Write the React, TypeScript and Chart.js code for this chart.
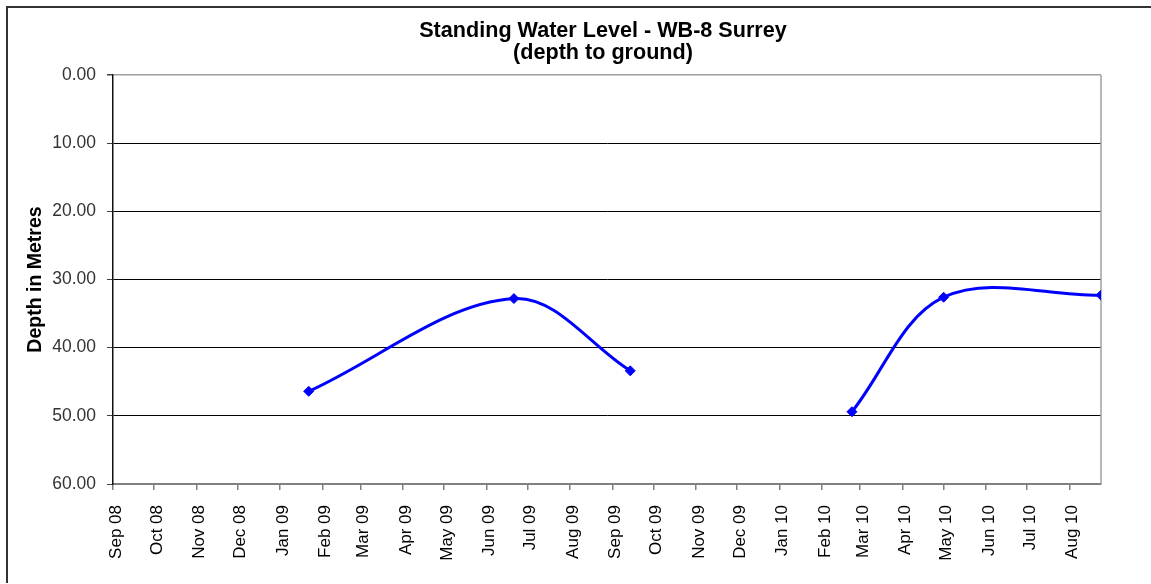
import React, { useEffect, useRef } from 'react';
import { Chart, registerables } from 'chart.js';

Chart.register(...registerables);

const TITLE_LINES = ['Standing Water Level - WB-8 Surrey', '(depth to ground)'];
const Y_TITLE = 'Depth in Metres';

const MONTH_TICK_LABELS = [
  'Sep 08', 'Oct 08', 'Nov 08', 'Dec 08', 'Jan 09', 'Feb 09', 'Mar 09', 'Apr 09',
  'May 09', 'Jun 09', 'Jul 09', 'Aug 09', 'Sep 09', 'Oct 09', 'Nov 09', 'Dec 09',
  'Jan 10', 'Feb 10', 'Mar 10', 'Apr 10', 'May 10', 'Jun 10', 'Jul 10', 'Aug 10',
];

const Y_MIN = 0;
const Y_MAX = 60;
const Y_STEP = 10;

// First monitoring period
const PERIOD1_DATES = ['2009-01-22', '2009-06-21', '2009-09-14'];
const PERIOD1_DEPTHS = [46.4, 32.8, 43.4];

// Second monitoring period
const PERIOD2_DATES = ['2010-02-23', '2010-05-01', '2010-08-24'];
const PERIOD2_DEPTHS = [49.4, 32.6, 32.3];

const MONTH_NAMES = ['Jan', 'Feb', 'Mar', 'Apr', 'May', 'Jun', 'Jul', 'Aug', 'Sep', 'Oct', 'Nov', 'Dec'];
const DAY_MS = 86400000;
const dayOf = (iso: string) => {
  const [y, m, d] = iso.split('-').map(Number);
  return Date.UTC(y, m - 1, d) / DAY_MS;
};
const tickDay = (label: string) => {
  const [mon, yy] = label.split(' ');
  return Date.UTC(2000 + Number(yy), MONTH_NAMES.indexOf(mon), 1) / DAY_MS;
};

const TICK_DAYS = MONTH_TICK_LABELS.map(tickDay);
const X_MIN = TICK_DAYS[0];
const X_MAX = Math.max(...PERIOD1_DATES.map(dayOf), ...PERIOD2_DATES.map(dayOf));

const FONT = 'Arial, "Liberation Sans", sans-serif';

const toPoints = (dates: string[], depths: number[]) =>
  dates.map((d, i) => ({ x: dayOf(d), y: depths[i] }));

const framePlugin = {
  id: 'frameAndTitle',
  beforeDatasetsDraw(chart: any) {
    const { ctx, chartArea } = chart;
    ctx.save();
    ctx.strokeStyle = '#a0a0a0';
    ctx.lineWidth = 1.5;
    ctx.beginPath();
    ctx.moveTo(chartArea.right, chartArea.top);
    ctx.lineTo(chartArea.right, chartArea.bottom);
    ctx.stroke();
    ctx.restore();
  },
  afterDraw(chart: any) {
    const { ctx, chartArea } = chart;
    ctx.save();
    // outer frame
    ctx.strokeStyle = '#333';
    ctx.lineWidth = 2;
    ctx.beginPath();
    ctx.moveTo(7, 583);
    ctx.lineTo(7, 7);
    ctx.lineTo(1151, 7);
    ctx.stroke();
    // title
    ctx.fillStyle = '#000';
    ctx.font = `bold 21.6px ${FONT}`;
    ctx.textAlign = 'center';
    ctx.textBaseline = 'alphabetic';
    const cx = (chartArea.left + chartArea.right) / 2 - 4;
    ctx.fillText(TITLE_LINES[0], cx, 37);
    ctx.fillText(TITLE_LINES[1], cx, 59);
    ctx.restore();
  },
};

export default function App() {
  const canvasRef = useRef<HTMLCanvasElement | null>(null);

  useEffect(() => {
    if (!canvasRef.current) return;
    const lineStyle = {
      borderColor: '#0000ff',
      backgroundColor: '#0000ff',
      borderWidth: 3,
      pointStyle: 'rectRot' as const,
      pointRadius: 5,
      pointBorderWidth: 1,
      pointBackgroundColor: '#0000ff',
      pointBorderColor: '#0000ff',
      tension: 0.35,
      fill: false,
    };
    const chart = new Chart(canvasRef.current, {
      type: 'line',
      data: {
        datasets: [
          { label: 'Depth', data: toPoints(PERIOD1_DATES, PERIOD1_DEPTHS), ...lineStyle },
          { label: 'Depth ', data: toPoints(PERIOD2_DATES, PERIOD2_DEPTHS), ...lineStyle },
        ],
      },
      options: {
        responsive: false,
        animation: false,
        devicePixelRatio: 1,
        layout: { padding: { left: 0, top: 75, right: 50, bottom: 0 } },
        plugins: {
          legend: { display: false },
          title: { display: false },
          tooltip: { enabled: false },
        },
        scales: {
          x: {
            type: 'linear',
            min: X_MIN,
            max: X_MAX,
            afterBuildTicks: (scale: any) => {
              scale.ticks = TICK_DAYS.map((v) => ({ value: v }));
            },
            afterFit: (scale: any) => {
              scale.height = 100;
            },
            ticks: {
              autoSkip: false,
              minRotation: 90,
              maxRotation: 90,
              padding: 15,
              labelOffset: 3,
              color: '#000',
              font: { family: FONT, size: 17 },
              callback: (_v: any, i: number) => MONTH_TICK_LABELS[i],
            },
            grid: {
              drawOnChartArea: false,
              drawTicks: true,
              tickLength: 6,
              color: '#808080',
              lineWidth: 1.5,
            },
            border: { display: true, color: '#808080', width: 2 },
          },
          y: {
            type: 'linear',
            reverse: true,
            min: Y_MIN,
            max: Y_MAX,
            afterFit: (scale: any) => {
              scale.width = 113;
            },
            ticks: {
              stepSize: Y_STEP,
              padding: 11,
              color: '#333',
              font: { family: FONT, size: 17.5 },
              callback: (v: any) => Number(v).toFixed(2),
            },
            grid: {
              drawTicks: true,
              tickLength: 6,
              color: (c: any) => (c.tick && c.tick.value === Y_MIN ? '#a0a0a0' : c.tick && c.tick.value === Y_MAX ? 'rgba(0,0,0,0)' : '#000'),
              tickColor: '#404040',
              lineWidth: (c: any) => (c.tick && c.tick.value === Y_MIN ? 1.5 : 1),
            },
            border: { display: true, color: '#111', width: 1.5 },
            title: {
              display: true,
              text: Y_TITLE,
              color: '#000',
              font: { family: FONT, size: 19.5, weight: 'bold' },
              padding: { top: 24, bottom: 0 },
            },
          },
        },
      } as any,
      plugins: [framePlugin],
    });
    return () => chart.destroy();
  }, []);

  return (
    <div style={{ position: 'absolute', left: 0, top: 0, width: 1151, height: 584, background: '#fff' }}>
      <canvas ref={canvasRef} width={1151} height={584} style={{ display: 'block' }} />
    </div>
  );
}
